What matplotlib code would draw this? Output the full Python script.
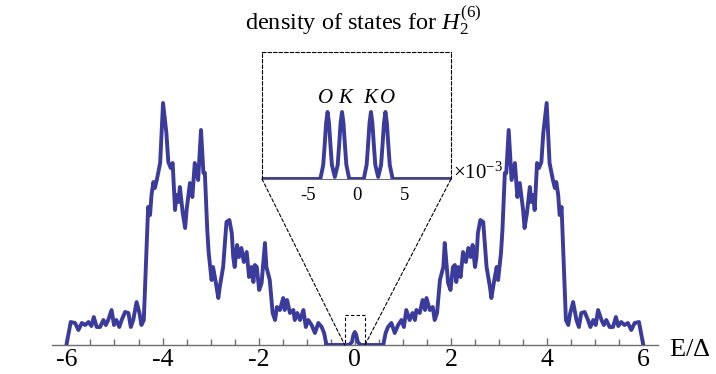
import numpy as np
import matplotlib
matplotlib.use('Agg')
import matplotlib.pyplot as plt
from matplotlib.patches import ConnectionPatch, Rectangle

plt.rcParams['font.family'] = ['Liberation Serif', 'DejaVu Serif']
plt.rcParams['mathtext.fontset'] = 'custom'
plt.rcParams['mathtext.rm'] = 'Liberation Serif'
plt.rcParams['mathtext.it'] = 'Liberation Serif:italic'
plt.rcParams['axes.unicode_minus'] = False

# density of states, left half of the band (E/Delta, arb. units)
e_left = [-6.0, -5.91, -5.82, -5.75, -5.68, -5.61, -5.54, -5.48, -5.43, -5.37,
          -5.30, -5.23, -5.18, -5.13, -5.06, -5.01, -4.96, -4.90, -4.85, -4.78,
          -4.71, -4.66, -4.61, -4.54, -4.48, -4.44, -4.39, -4.30, -4.26, -4.23,
          -4.19, -4.16, -4.12, -4.05, -3.99, -3.92, -3.88, -3.83, -3.79, -3.74,
          -3.71, -3.67, -3.64, -3.58, -3.53, -3.50, -3.43, -3.38, -3.33, -3.26,
          -3.20, -3.15, -3.12, -3.07, -3.04, -2.98, -2.95, -2.89, -2.84, -2.81,
          -2.74, -2.67, -2.61, -2.56, -2.53, -2.50, -2.45, -2.41, -2.36, -2.31,
          -2.25, -2.20, -2.15, -2.11, -2.08, -2.04, -1.99, -1.94, -1.87, -1.84,
          -1.77, -1.71, -1.66, -1.62, -1.56, -1.49, -1.46, -1.41, -1.35, -1.28,
          -1.25, -1.20, -1.14, -1.07, -1.02, -0.97, -0.90, -0.83, -0.76, -0.69,
          -0.64, -0.59]
dos_left = [0, 23, 22, 15, 22, 20, 23, 19, 28, 18,
            18, 25, 20, 25, 35, 20, 25, 18, 25, 33,
            32, 18, 25, 43, 32, 20, 25, 138, 130, 150,
            163, 157, 165, 182, 242, 212, 183, 177, 182, 135,
            150, 143, 158, 132, 117, 135, 162, 148, 182, 165,
            215, 172, 172, 115, 92, 65, 78, 62, 47, 58,
            78, 123, 125, 112, 88, 78, 100, 88, 97, 83,
            93, 68, 78, 63, 80, 78, 55, 62, 102, 78,
            65, 32, 25, 38, 35, 47, 35, 45, 32, 35,
            25, 32, 25, 35, 18, 25, 20, 12, 22, 18,
            12, 0]

# tiny bump at zero energy
e_mid = [-0.12, -0.06, -0.03, 0.0, 0.03, 0.06, 0.12]
dos_mid = [0, 3, 10, 13, 10, 3, 0]

# zoomed-in states (x 10^-3)
inset_e = [-9.8, -3.75, -3.45, -3.3, -3.15, -3.0, -2.85, -2.7, -2.55, -2.25,
           -1.95, -1.8, -1.65, -1.5, -1.35, -1.2, -1.05, -0.75,
           0.75, 1.05, 1.2, 1.35, 1.5, 1.65, 1.8, 1.95, 2.25,
           2.55, 2.7, 2.85, 3.0, 3.15, 3.3, 3.45, 3.75, 9.8]
inset_dos = [0, 0, 14, 34, 56, 67, 56, 34, 14, 2,
             14, 34, 56, 67, 56, 34, 14, 0,
             0, 14, 34, 56, 67, 56, 34, 14, 2,
             14, 34, 56, 67, 56, 34, 14, 0, 0]
peak_labels = ['O', 'K', 'K', 'O']
peak_label_x = [-3.2, -1.15, 1.45, 3.2]

main_ticks = [-6, -4, -2, 0, 2, 4, 6]
inset_ticks = [-5, 0, 5]

blue = '#3b3b9c'
grey = '#6e6e6e'
lw = 2.8

fig = plt.figure(figsize=(7.16, 3.74), dpi=100)
ax = fig.add_axes([0.0726, 0.0775, 0.846, 0.9225])
# the band is symmetric about E = 0
ax.plot(e_left, dos_left, color=blue, lw=lw, solid_capstyle='round', solid_joinstyle='round')
ax.plot(-np.array(e_left), dos_left, color=blue, lw=lw, solid_capstyle='round', solid_joinstyle='round')
ax.plot([e_left[-1], e_mid[0]], [0, 0], color=blue, lw=lw)
ax.plot([-e_left[-1], e_mid[-1]], [0, 0], color=blue, lw=lw)
ax.plot(e_mid, dos_mid, color=blue, lw=lw, solid_joinstyle='round')
ax.set_xlim(-6.3, 6.3)
ax.set_ylim(0, 345)
for s in ['top', 'left', 'right']:
    ax.spines[s].set_visible(False)
ax.spines['bottom'].set_color(grey)
ax.spines['bottom'].set_linewidth(1.0)
ax.spines['bottom'].set_zorder(0.5)
ax.set_yticks([])
ax.set_xticks(main_ticks)
ax.set_xticklabels([str(t) for t in main_ticks])
ax.set_xticks(np.arange(-6, 6.01, 0.5), minor=True)
ax.tick_params(axis='x', which='major', direction='in', length=5, width=1,
               color=grey, labelsize=18.5, pad=3)
ax.tick_params(axis='x', which='minor', direction='in', length=4, width=1, color=grey)
ax.patch.set_visible(False)

box_half = 0.21
box_top = 30
ax.add_patch(Rectangle((-box_half, 0), 2 * box_half, box_top, fill=False,
                       ls=(0, (3, 2)), lw=0.8, ec='k'))

ins = fig.add_axes([0.3659, 0.5214, 0.264, 0.3396])
ins.plot(inset_e, inset_dos, color=blue, lw=lw, solid_joinstyle='round')
ins.set_xlim(-9.8, 9.8)
ins.set_ylim(0, 127)
ins.patch.set_visible(False)
for s in ['top', 'left', 'right']:
    ins.spines[s].set_linestyle((0, (3, 2)))
    ins.spines[s].set_linewidth(0.8)
ins.spines['bottom'].set_color(grey)
ins.set_yticks([])
ins.set_xticks(inset_ticks)
ins.tick_params(axis='x', length=0, labelsize=13.5, pad=6)
for lab, x in zip(peak_labels, peak_label_x):
    ins.text(x, 80, lab, ha='center', va='center', fontsize=15, fontstyle='italic')
ins.text(1.01, -0.04, r'$\times10^{-3}$', transform=ins.transAxes, ha='left',
         va='bottom', fontsize=15)

for xa, xb in [(0, -box_half), (1, box_half)]:
    con = ConnectionPatch(xyA=(xa, 0), coordsA=ins.transAxes, xyB=(xb, 0),
                          coordsB=ax.transData, ls=(0, (3, 2)), lw=0.8, color='k')
    fig.add_artist(con)

fig.text(0.507, 0.92, r'density of states for $\mathit{H}_{\mathit{2}}^{\mathit{(6)}}$',
         ha='center', va='baseline', fontsize=17.5)
fig.text(0.934, 0.048, r'E/$\Delta$', ha='left', va='baseline', fontsize=19)

fig.savefig('out.png', dpi=100)
